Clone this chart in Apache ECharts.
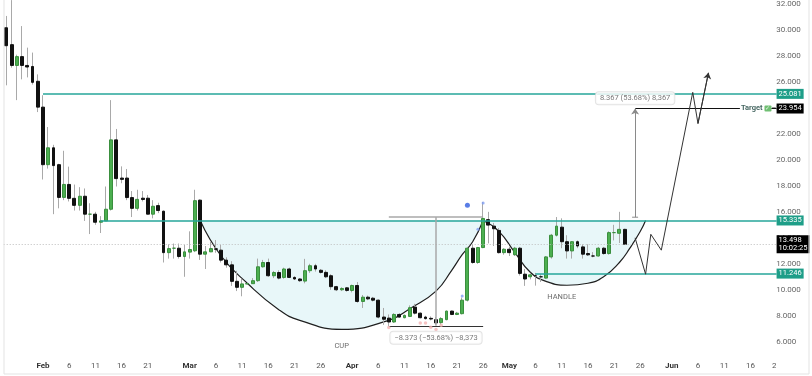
<!DOCTYPE html>
<html>
<head>
<meta charset="utf-8">
<title>Cup and handle</title>
<script src="https://cdn.jsdelivr.net/npm/echarts@6/dist/echarts.min.js"></script>
<style>
html, body { margin: 0; padding: 0; background: #fff; }
#chart { width: 812px; height: 376px; }
</style>
</head>
<body>
<div id="chart"></div>
<script>
// daily axis, Jan 25 -> Jun 21
var dayCount = 148;
var cats = [];
var t0 = Date.UTC(2025, 0, 25);
for (var i = 0; i < dayCount; i++) {
	cats.push(new Date(t0 + i * 864e5).toISOString().slice(0, 10));
}
var lastCat = cats[cats.length - 1];

// candles from Jan 25: [open, close, low, high]
var candles = [
	[30.17, 28.79, 25.74, 31.08], [28.87, 27.27, 27.10, 32.30], [27.27, 27.95, 24.60, 28.10],
	[27.95, 27.27, 26.20, 30.30], [27.27, 27.15, 26.35, 28.64], [27.19, 25.97, 25.80, 28.26],
	[26.05, 24.06, 23.68, 26.58],
	// Feb
	[24.06, 19.63, 18.49, 24.98], [19.63, 20.93, 19.33, 22.53], [20.93, 19.56, 15.82, 21.16],
	[19.63, 17.11, 16.27, 19.70], [17.11, 18.11, 16.90, 20.70], [18.11, 17.04, 16.80, 19.48],
	[17.04, 16.50, 16.10, 18.10], [16.50, 17.20, 16.10, 17.90], [17.20, 15.82, 15.30, 17.80],
	[15.82, 15.82, 14.29, 16.66], [15.82, 15.20, 15.00, 16.00], [15.20, 15.30, 14.37, 15.67],
	[15.30, 16.20, 15.30, 17.95], [16.20, 21.54, 16.10, 24.60], [21.54, 18.56, 17.95, 22.38],
	[18.60, 18.50, 18.20, 19.50], [18.60, 17.10, 16.90, 19.30], [17.10, 16.27, 15.60, 17.60],
	[16.27, 16.96, 16.10, 17.70], [17.05, 16.95, 16.80, 17.60], [17.05, 15.82, 15.80, 17.30],
	[15.82, 16.43, 15.50, 16.90], [16.48, 16.10, 15.90, 16.70], [16.05, 12.86, 12.10, 16.10],
	[12.86, 13.17, 12.40, 13.50], [13.20, 13.20, 12.40, 13.56], [13.20, 12.56, 12.40, 13.56],
	[12.56, 12.92, 11.00, 13.45],
	// Mar
	[12.90, 13.10, 12.40, 14.50], [13.00, 16.86, 12.90, 17.70], [16.90, 12.74, 12.30, 16.95],
	[12.74, 12.92, 11.60, 13.37], [12.92, 13.17, 12.90, 13.70], [13.15, 13.12, 12.85, 13.83],
	[13.05, 12.28, 12.10, 13.45], [12.28, 11.92, 11.70, 12.50], [11.92, 10.65, 10.30, 12.20],
	[10.65, 10.19, 9.90, 11.46], [10.19, 10.45, 9.50, 10.85], [10.45, 10.47, 10.40, 10.60],
	[10.47, 10.70, 10.45, 10.90], [10.70, 11.77, 10.60, 12.40], [11.77, 12.10, 11.70, 12.30],
	[12.10, 11.08, 11.00, 12.40], [11.08, 11.33, 10.90, 11.45], [11.33, 10.90, 10.80, 11.50],
	[10.95, 11.60, 10.85, 11.70], [11.60, 10.95, 10.90, 11.70], [10.95, 10.83, 10.75, 11.05],
	[10.83, 10.70, 10.60, 10.90], [10.67, 11.47, 10.50, 12.38], [11.47, 11.85, 11.30, 12.00],
	[11.85, 11.60, 11.40, 12.00], [11.50, 11.34, 11.25, 11.60], [11.34, 11.00, 10.90, 11.50],
	[11.08, 10.24, 10.00, 11.20], [10.24, 10.00, 9.90, 10.30], [10.00, 10.10, 9.90, 10.20],
	[10.15, 9.95, 9.85, 10.20],
	// Apr
	[9.95, 10.33, 9.80, 10.40], [10.33, 9.10, 9.00, 10.60], [9.10, 9.43, 8.60, 9.60],
	[9.43, 9.30, 9.20, 9.55], [9.35, 9.20, 9.10, 9.45], [9.20, 7.90, 7.80, 9.25],
	[7.90, 7.73, 7.30, 8.60], [7.82, 7.52, 7.20, 8.10], [7.52, 8.10, 7.45, 8.20],
	[8.10, 7.90, 7.85, 8.20], [7.85, 8.03, 7.80, 8.10], [7.95, 8.62, 7.90, 8.80],
	[8.67, 8.20, 8.10, 8.92], [8.20, 7.85, 7.80, 8.25], [7.90, 7.78, 7.70, 8.00],
	[7.80, 7.75, 7.65, 7.95], [7.70, 7.45, 7.30, 7.90], [7.47, 7.78, 7.30, 7.90],
	[7.70, 8.36, 7.65, 8.40], [8.36, 8.10, 8.05, 8.40], [8.10, 8.20, 8.05, 8.30],
	[8.16, 9.20, 8.10, 9.40], [9.20, 13.20, 9.10, 13.30], [13.20, 12.10, 12.00, 13.50],
	[12.10, 13.25, 12.00, 13.30], [13.25, 15.49, 13.20, 16.76], [15.40, 14.98, 13.57, 16.00],
	[14.90, 14.70, 13.37, 15.15], [14.57, 12.86, 12.79, 14.75], [12.86, 13.12, 12.70, 13.20],
	// May
	[13.12, 12.86, 12.60, 13.30], [12.70, 13.20, 12.60, 13.30], [13.20, 11.26, 11.10, 13.30],
	[11.20, 10.83, 10.30, 11.60], [11.00, 11.15, 10.80, 11.30], [11.08, 11.08, 10.32, 11.30],
	[11.00, 11.00, 10.60, 11.20], [10.90, 12.53, 10.85, 12.60], [12.53, 14.20, 12.40, 14.30],
	[14.20, 14.90, 14.10, 15.60], [14.82, 13.70, 13.20, 15.50], [13.70, 12.99, 12.40, 14.20],
	[12.99, 13.70, 12.40, 13.75], [13.70, 13.37, 13.20, 13.80], [13.30, 12.74, 12.40, 13.50],
	[12.79, 12.69, 12.60, 13.50], [12.60, 12.60, 12.50, 12.90], [12.60, 13.20, 12.55, 13.30],
	[13.20, 12.79, 12.70, 13.30], [12.79, 14.40, 12.70, 14.50], [14.40, 14.40, 13.80, 15.00],
	[14.35, 14.65, 13.60, 16.00], [14.65, 13.498, 13.45, 14.70]
];

// price levels
var topLevel = 25.081;
var resistance = 15.335;
var handleLow = 11.246;
var lastPrice = 13.498;
var target = 23.954;
var targetBase = 15.587;
var measureTop = 15.6;
var measureLow = 7.227;

// hand drawn curves [date, value]
var cupCurve = [
	['2025-03-03', 15.33], ['2025-03-07', 12.6], ['2025-03-12', 10.5], ['2025-03-18', 8.47],
	['2025-03-22', 7.65], ['2025-03-30', 6.95], ['2025-04-08', 7.65], ['2025-04-12', 8.54],
	['2025-04-17', 9.9], ['2025-04-20', 11.5], ['2025-04-22', 12.7], ['2025-04-24', 13.7],
	['2025-04-26', 15.33]
];
var handleCurve = [
	['2025-04-26', 15.33], ['2025-04-29', 14.5], ['2025-05-02', 12.9], ['2025-05-05', 11.35],
	['2025-05-08', 10.65], ['2025-05-12', 10.35], ['2025-05-16', 10.5], ['2025-05-19', 11.0],
	['2025-05-22', 12.1], ['2025-05-24', 13.2], ['2025-05-26', 14.5], ['2025-05-27', 15.33]
];
var projection = [
	['2025-05-25', 14.0], ['2025-05-27', 11.2], ['2025-05-28', 14.27], ['2025-05-30', 13.05],
	['2025-06-05', 25.2], ['2025-06-06', 22.8], ['2025-06-08', 26.7]
];

var bigBlueDots = [['2025-04-23', 16.5]];
var smallBlueDots = [['2025-04-22', 9.53], ['2025-04-25', 14.65], ['2025-04-26', 16.68]];
var pinkDots = [
	['2025-04-08', 7.1], ['2025-04-14', 7.44], ['2025-04-15', 7.44],
	['2025-04-16', 7.12], ['2025-04-17', 6.94], ['2025-04-18', 7.27]
];

var yTicks = [6, 8, 10, 12, 14, 16, 18, 20, 22, 24, 26, 28, 30, 32];
var xTickDates = [
	'2025-02-01', '2025-02-06', '2025-02-11', '2025-02-16', '2025-02-21',
	'2025-03-01', '2025-03-06', '2025-03-11', '2025-03-16', '2025-03-21', '2025-03-26',
	'2025-04-01', '2025-04-06', '2025-04-11', '2025-04-16', '2025-04-21', '2025-04-26',
	'2025-05-01', '2025-05-06', '2025-05-11', '2025-05-16', '2025-05-21', '2025-05-26',
	'2025-06-01', '2025-06-06', '2025-06-11', '2025-06-16', '2025-06-21'
];
var xTickLabels = [
	'Feb', '6', '11', '16', '21',
	'Mar', '6', '11', '16', '21', '26',
	'Apr', '6', '11', '16', '21', '26',
	'May', '6', '11', '16', '21', '26',
	'Jun', '6', '11', '16', '21'
];

var teal = '#26a69a';
var tealTag = '#1e9e88';
var font = 'Roboto';

function tag(bg, text) {
	return {
		show: true, position: 'end', distance: 0, formatter: text,
		backgroundColor: bg, color: '#fff', fontFamily: font, fontSize: 7.5,
		lineHeight: 8, padding: [1, 2]
	};
}
function note(date, value, text, extra) {
	var lab = {
		show: true, position: 'inside', formatter: text,
		fontFamily: font, fontSize: 7.5, color: '#444'
	};
	for (var k in extra) lab[k] = extra[k];
	return { value: [date, value], label: lab };
}

var bodies = candles.map(function (c) {
	return [c[0], c[1], Math.min(c[0], c[1]), Math.max(c[0], c[1])];
});

var chart = echarts.init(document.getElementById('chart'));
var option = {
	animation: false,
	backgroundColor: '#fff',
	grid: { left: 3.7, right: 32.8, top: 0, bottom: 18 },
	xAxis: {
		type: 'category',
		data: cats,
		boundaryGap: true,
		axisLine: { show: false },
		axisTick: { show: false },
		splitLine: { show: false },
		axisLabel: {
			margin: 4,
			fontFamily: font,
			fontSize: 8,
			color: '#555',
			interval: function (idx, val) { return xTickDates.indexOf(val) >= 0; },
			formatter: function (val) {
				var s = xTickLabels[xTickDates.indexOf(val)];
				return /[A-Za-z]/.test(s) ? '{m|' + s + '}' : s;
			},
			rich: { m: { fontFamily: font, fontSize: 8, fontWeight: 'bold', color: '#333' } }
		}
	},
	yAxis: {
		type: 'value',
		position: 'right',
		min: 4.748,
		max: 32.076,
		axisLine: { show: false },
		axisTick: { show: false },
		splitLine: { show: false },
		axisLabel: {
			customValues: yTicks,
			margin: -3,
			fontFamily: font,
			fontSize: 8,
			color: '#666',
			formatter: function (v) { return v.toFixed(3); }
		}
	},
	graphic: [
		{
			type: 'polyline', silent: true, z: 100,
			shape: { points: [[4, 0], [4, 374], [809, 374], [809, 0]] },
			style: { stroke: '#e3e3e3', fill: null, lineWidth: 1 }
		},
		{
			type: 'rect', silent: true, z: 99,
			shape: { x: 776, y: 360, width: 32, height: 13 },
			style: { fill: '#fff' }
		}
	],
	series: [
		{
			name: 'cup', type: 'line', data: cupCurve, smooth: true, symbol: 'none', z: 1,
			lineStyle: { color: '#1f1f1f', width: 1.2 },
			areaStyle: { origin: resistance, color: '#e8f7f9', opacity: 1 }
		},
		{
			name: 'handle', type: 'line', data: handleCurve, smooth: true, symbol: 'none', z: 1,
			lineStyle: { color: '#1f1f1f', width: 1.2 },
			areaStyle: { origin: resistance, color: '#e8f7f9', opacity: 1 }
		},
		{
			name: 'wicks', type: 'candlestick', data: candles, barWidth: 1, z: 3,
			itemStyle: {
				color: '#a9a9a9', color0: '#a9a9a9',
				borderColor: '#a9a9a9', borderColor0: '#a9a9a9', borderWidth: 1
			}
		},
		{
			name: 'bodies', type: 'candlestick', data: bodies, barWidth: 3.4, z: 4,
			itemStyle: {
				color: '#4caf50', color0: '#111111',
				borderColor: '#3a8f3e', borderColor0: '#111111', borderWidth: 1
			}
		},
		{
			name: 'projection', type: 'line', data: projection, symbol: 'none', z: 5,
			lineStyle: { color: '#333', width: 1 },
			markLine: {
				silent: true,
				symbol: ['none', 'none'],
				label: { show: false },
				emphasis: { disabled: true },
				data: [
					[{ coord: ['2025-02-01', topLevel], lineStyle: { color: teal, width: 1.5, type: 'solid' }, label: tag(tealTag, topLevel.toFixed(3)) },
						{ coord: [lastCat, topLevel] }],
					[{ coord: ['2025-02-12', resistance], lineStyle: { color: teal, width: 1.5, type: 'solid' }, label: tag(tealTag, resistance.toFixed(3)) },
						{ coord: [lastCat, resistance] }],
					[{ coord: ['2025-05-06', handleLow], lineStyle: { color: teal, width: 1.5, type: 'solid' }, label: tag(tealTag, handleLow.toFixed(3)) },
						{ coord: [lastCat, handleLow] }],
					{ yAxis: lastPrice, lineStyle: { color: '#bdbdbd', width: 1, type: [1, 2] },
						label: (function () { var l = tag('#000', lastPrice.toFixed(3) + '\n10:02:25'); l.distance = -2.6; return l; })() },
					[{ coord: ['2025-05-25', target], lineStyle: { color: '#111', width: 1, type: 'solid' } },
						{ coord: ['2025-06-14', target] }],
					[{ coord: ['2025-06-20', target], lineStyle: { color: '#111', width: 1, type: 'solid' }, label: tag('#000', target.toFixed(3)) },
						{ coord: [lastCat, target] }],
					[{ coord: ['2025-05-25', targetBase], symbol: 'rect', symbolSize: [6, 1], lineStyle: { color: '#8a8a8a', width: 1, type: 'solid' } },
						{ coord: ['2025-05-25', target], symbol: 'arrow', symbolSize: 6 }],
					[{ coord: ['2025-04-08', measureTop], lineStyle: { color: '#a8a8a8', width: 1.5, type: 'solid' } },
						{ coord: ['2025-04-26', measureTop] }],
					[{ coord: ['2025-04-17', measureTop], lineStyle: { color: '#a8a8a8', width: 1.5, type: 'solid' } },
						{ coord: ['2025-04-17', measureLow] }],
					[{ coord: ['2025-04-08', measureLow], lineStyle: { color: '#333', width: 1, type: 'solid' } },
						{ coord: ['2025-04-26', measureLow] }],
					[{ coord: projection[5], lineStyle: { color: '#333', width: 1, type: 'solid' } },
						{ coord: projection[6], symbol: 'arrow', symbolSize: 6 }]
				]
			}
		},
		{
			name: 'signal', type: 'scatter', data: bigBlueDots, symbolSize: 5, z: 6,
			itemStyle: { color: '#2f5ce0' }
		},
		{
			name: 'signal small', type: 'scatter', data: smallBlueDots, symbolSize: 3, z: 6,
			itemStyle: { color: '#7f9df2' }
		},
		{
			name: 'low marks', type: 'scatter', data: pinkDots, symbolSize: 3.5, z: 6,
			itemStyle: { color: '#f4b4b4' }
		},
		{
			name: 'notes', type: 'scatter', symbolSize: 0.1, z: 7,
			itemStyle: { color: 'rgba(0,0,0,0)' },
			data: [
				note('2025-03-30', 5.66, 'CUP'),
				note('2025-05-11', 9.4, 'HANDLE'),
				note('2025-05-25', 24.75, '8.367 (53.68%) 8,367', {
					backgroundColor: '#fff', borderColor: '#dcdcdc', borderWidth: 1,
					borderRadius: 3, padding: [2, 4], color: '#555'
				}),
				note('2025-04-17', 6.31, '\u22128.373 (\u221253.68%) \u22128,373', {
					backgroundColor: '#fff', borderColor: '#dcdcdc', borderWidth: 1,
					borderRadius: 3, padding: [2, 4], color: '#555'
				}),
				note('2025-06-14', target, '{t|Target} {c|\u2713}{d|\u2013}', {
					position: 'right', distance: 1,
					rich: {
						t: { fontFamily: font, fontSize: 7.5, fontWeight: 'bold', color: '#17403a' },
						c: { fontFamily: font, fontSize: 6, color: '#fff', backgroundColor: '#4caf50', borderRadius: 1, padding: [0, 1] },
						d: { fontFamily: font, fontSize: 7.5, color: '#111' }
					}
				})
			]
		}
	]
};
chart.setOption(option);
</script>
</body>
</html>
